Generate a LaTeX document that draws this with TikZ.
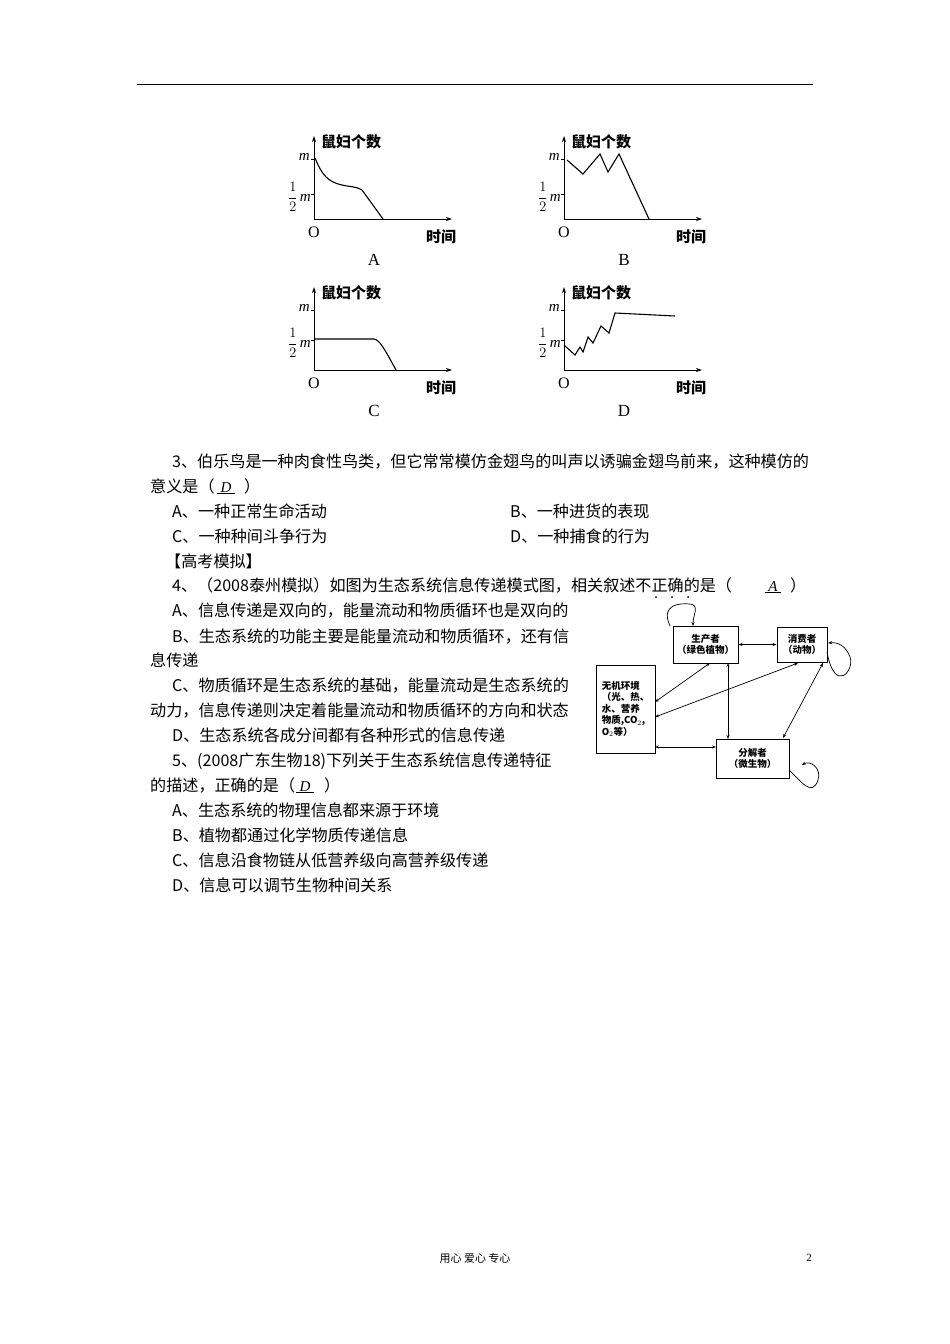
\documentclass[tikz,border=0pt]{standalone}
\usepackage{fontspec}
\setmainfont{Liberation Serif}
\newfontfamily\cjk{Noto Sans CJK SC}
\usetikzlibrary{arrows.meta}
\begin{document}
\begin{tikzpicture}[x=1pt,y=-1pt,
  txt/.style={anchor=base west,inner sep=0pt,font=\cjk\fontsize{16.1}{16}\selectfont},
  ax/.style={line width=0.9pt,-{Stealth[length=6pt,width=4pt]}},
  crv/.style={line width=1.1pt},
  lab/.style={inner sep=0pt,font=\cjk\bfseries\fontsize{15}{15}\selectfont},
  ans/.style={inner sep=0pt,anchor=base,font=\fontsize{15}{15}\selectfont\itshape},
  box/.style={draw,line width=1pt,align=center,inner sep=0pt,font=\cjk\bfseries\fontsize{9.5}{11.5}\selectfont},
  dar/.style={line width=0.7pt,{Stealth[length=4pt,width=3pt]}-{Stealth[length=4pt,width=3pt]}},
  sar/.style={line width=0.7pt,-{Stealth[length=4pt,width=3pt]}}]
\useasboundingbox (0,0) rectangle (950,1344);
\draw[line width=0.8pt] (137,84) -- (813,84);
% graphs
\foreach \ox/\oy/\L/\mm/\hm in {314/219/A/159/194, 564/219/B/159/194, 314/370/C/310/340, 564/370/D/310/340}{
  \begin{scope}
  \coordinate (o\L) at (\ox,\oy);
  \draw[ax] (o\L) -- ++(0,-83);
  \draw[ax] (o\L) -- ++(138,0);
  \draw[line width=0.7pt] (\ox,\mm) -- ++(-3,0) (\ox,\hm) -- ++(-3,0);
  \node[lab,anchor=west] at (\ox+7,\oy-77) {鼠妇个数};
  \node[lab,anchor=west] at (\ox+112,\oy+18) {时间};
  \node[inner sep=0pt,font=\fontsize{16}{16}\selectfont] at (\ox,\oy+13) {O};
  \node[inner sep=0pt,font=\fontsize{17}{17}\selectfont] at (\ox+60,\oy+41) {\L};
  \node[inner sep=0pt,anchor=east,font=\fontsize{15}{15}\selectfont\itshape] at (\ox-4,\mm-2) {m};
  \node[inner sep=0pt,anchor=east,font=\fontsize{15}{15}\selectfont] at (\ox-3,\hm+3) {$\displaystyle\frac{1}{2}\,\mathit{m}$};
  \end{scope}
}
\draw[crv] (315,158) .. controls (322,175) and (328,182) .. (342,185) .. controls (350,187) and (355,186) .. (362,190) -- (383,219);
\draw[crv] (567,160) -- (583,174) -- (600,154) -- (608,172) -- (619,154) -- (649,219);
\draw[crv] (314,339) -- (374,339) .. controls (380,340) and (385,350) .. (396,370);
\draw[crv] (564,345) -- (575,355) -- (580,347) -- (583,352) -- (588,337) -- (593,343) -- (601,326) -- (609,333) -- (615,313) -- (675,316);
% text
\node[txt] at (172,467) {3、伯乐鸟是一种肉食性鸟类，但它常常模仿金翅鸟的叫声以诱骗金翅鸟前来，这种模仿的};
\node[txt] (q3b) at (150,492) {意义是（};
\node[ans] at (226,492) {\underline{\ D\ }};
\node[txt] at (244,492) {）};
\node[txt] at (172,517) {A、一种正常生命活动};
\node[txt] at (510,517) {B、一种进货的表现};
\node[txt] at (172,542) {C、一种种间斗争行为};
\node[txt] at (510,542) {D、一种捕食的行为};
\node[txt] at (165,567) {【高考模拟】};
\node[txt] (q4) at (172,591) {4、（2008泰州模拟）如图为生态系统信息传递模式图，相关叙述不正确的是（};
\node[ans] at (773,591) {\underline{\ A\ }};
\node[txt] at (790,591) {）};
\foreach \x in {656,672,688} \fill (\x,597) circle (1pt);
\node[txt] at (172,616) {A、信息传递是双向的，能量流动和物质循环也是双向的};
\node[txt] at (172,642) {B、生态系统的功能主要是能量流动和物质循环，还有信};
\node[txt] at (150,666) {息传递};
\node[txt] at (172,691) {C、物质循环是生态系统的基础，能量流动是生态系统的};
\node[txt] at (150,716) {动力，信息传递则决定着能量流动和物质循环的方向和状态};
\node[txt] at (172,741) {D、生态系统各成分间都有各种形式的信息传递};
\node[txt] at (172,766) {5、(2008广东生物18)下列关于生态系统信息传递特征};
\node[txt] at (150,791) {的描述，正确的是（};
\node[ans] at (305,791) {\underline{\ D\ }};
\node[txt] at (324,791) {）};
\node[txt] at (172,816) {A、生态系统的物理信息都来源于环境};
\node[txt] at (172,841) {B、植物都通过化学物质传递信息};
\node[txt] at (172,866) {C、信息沿食物链从低营养级向高营养级传递};
\node[txt] at (172,891) {D、信息可以调节生物种间关系};
% ecosystem diagram
\node[box,minimum width=65pt,minimum height=37pt] (P) at (705.5,644.5) {生产者\\（绿色植物）};
\node[box,minimum width=50pt,minimum height=35pt] (Cn) at (802,644.5) {消费者\\（动物）};
\node[box,minimum width=59pt,minimum height=88pt,align=left] (E) at (625.5,709) {无机环境\\（光、热、\\水、营养\\物质,CO$_2$,\\O$_2$等）};
\node[box,minimum width=73pt,minimum height=39pt] (Dc) at (752.5,758.5) {分解者\\（微生物）};
\draw[dar] (P.east) -- (Cn.west);
\draw[dar] (710,663) -- (655,702);
\draw[dar] (798,663) -- (655,717);
\draw[dar] (728,663) -- (728,739);
\draw[dar] (823,663) -- (783,738);
\draw[dar] (655,747) -- (716,747);
\draw[sar] (670,626) .. controls (660,604) and (680,603) .. (690,604) .. controls (700,605) and (693,615) .. (693,626);
\draw[sar] (827,652) .. controls (835,695) and (855,670) .. (850,657) .. controls (846,646) and (838,642) .. (828,643);
\draw[sar] (789,770) .. controls (800,780) and (812,798) .. (818,780) .. controls (822,768) and (810,760) .. (802,765);
% footer
\node[inner sep=0pt,font=\cjk\fontsize{11}{11}\selectfont] at (475,1258) {用心 爱心 专心};
\node[inner sep=0pt,font=\fontsize{11}{11}\selectfont] at (809,1258) {2};
\end{tikzpicture}
\end{document}
